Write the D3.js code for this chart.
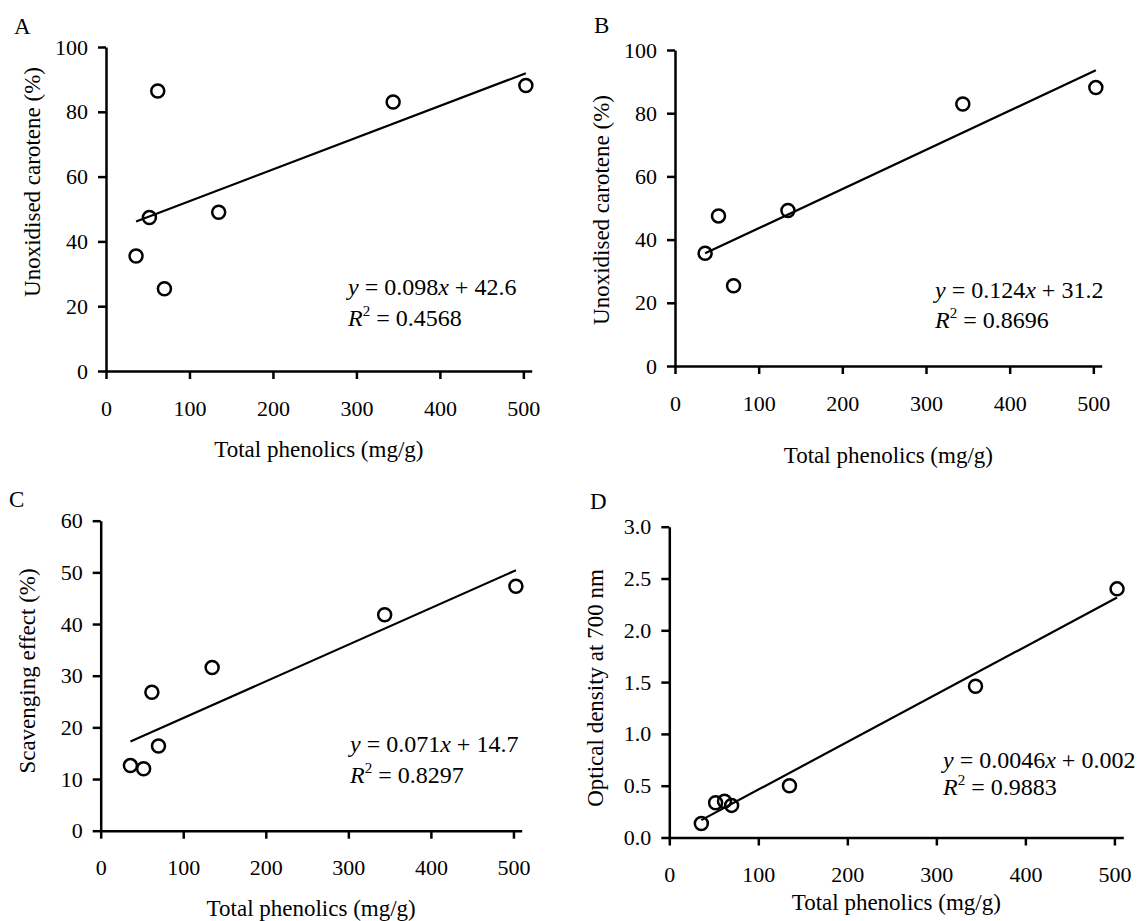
<!DOCTYPE html>
<html>
<head>
<meta charset="utf-8">
<script src="https://cdn.jsdelivr.net/npm/d3@7"></script>
<style>
  body { margin: 0; background: #fff; }
  svg text { font-family: "Liberation Serif", "Times New Roman", serif; fill: #000; }
  .axis path, .axis line { stroke: #000; stroke-width: 2.5; }
</style>
</head>
<body>
<svg id="chart" width="1141" height="921"></svg>
<script>
// x values (total phenolics, mg/g) shared by the panels
const phenolics = [36, 52, 62, 70, 135, 344, 503];
// panel B leaves out the sample at 62 mg/g
const phenolicsB = [36, 52, 70, 135, 344, 503];

const caroteneA = [35.5, 47.4, 86.4, 25.4, 49.0, 83.0, 88.1];
const caroteneB = [35.7, 47.5, 25.4, 49.2, 82.9, 88.1];
const scavenging = [12.6, 12.0, 26.8, 16.4, 31.6, 41.8, 47.3];
const opticalDensity = [0.135, 0.335, 0.35, 0.31, 0.50, 1.46, 2.40];

// regression lines printed on the figure
const fitA = {slope: 0.098, intercept: 42.6, slopeText: '0.098', interceptText: '42.6', r2: '0.4568'};
const fitB = {slope: 0.124, intercept: 31.2, slopeText: '0.124', interceptText: '31.2', r2: '0.8696'};
const fitC = {slope: 0.071, intercept: 14.7, slopeText: '0.071', interceptText: '14.7', r2: '0.8297'};
const fitD = {slope: 0.0046, intercept: 0.002, slopeText: '0.0046', interceptText: '0.002', r2: '0.9883'};

const xTicks = [0, 100, 200, 300, 400, 500];
const yTicksCarotene = [0, 20, 40, 60, 80, 100];
const yTicksScavenging = [0, 10, 20, 30, 40, 50, 60];
const yTicksDensity = [0, 0.5, 1.0, 1.5, 2.0, 2.5, 3.0];

const xTitle = 'Total phenolics (mg/g)';
const FONT = '"Liberation Serif", "Times New Roman", serif';

const svg = d3.select('#chart');

const panels = [
  {letter: 'A', letterPos: [14, 34], xs: phenolics, ys: caroteneA, fit: fitA,
   xRange: [106, 531.7], yRange: [371, 47], yDomain: [0, 100], yTicks: yTicksCarotene, fmt: d3.format('d'),
   yTitle: 'Unoxidised carotene (%)', yTitleY: 182, xTitleDy: 78,
   eqPos: [348, 295], eqGap: 31},
  {letter: 'B', letterPos: [594, 33], xs: phenolicsB, ys: caroteneB, fit: fitB,
   xRange: [675, 1101.7], yRange: [366, 50], yDomain: [0, 100], yTicks: yTicksCarotene, fmt: d3.format('d'),
   yTitle: 'Unoxidised carotene (%)', yTitleY: 210, xTitleDy: 89,
   eqPos: [935, 298], eqGap: 30},
  {letter: 'C', letterPos: [9, 507], xs: phenolics, ys: scavenging, fit: fitC,
   xRange: [100.7, 521.7], yRange: [830.7, 520.7], yDomain: [0, 60], yTicks: yTicksScavenging, fmt: d3.format('d'),
   yTitle: 'Scavenging effect (%)', yTitleY: 671, xTitleDy: 77,
   eqPos: [350, 752], eqGap: 31},
  {letter: 'D', letterPos: [590, 509], xs: phenolics, ys: opticalDensity, fit: fitD,
   xRange: [669.3, 1123.3], yRange: [837.5, 526.7], yDomain: [0, 3], yTicks: yTicksDensity, fmt: d3.format('.1f'),
   yTitle: 'Optical density at 700 nm', yTitleY: 688, xTitleDy: 64,
   eqPos: [943, 768], eqGap: 27}
];

panels.forEach(drawPanel);

function drawPanel(p) {
  const x = d3.scaleLinear().domain([0, 510]).range(p.xRange);
  const y = d3.scaleLinear().domain(p.yDomain).range(p.yRange);
  const g = svg.append('g');

  // axes (d3 puts sans-serif on the axis group, so reset it)
  g.append('g')
    .attr('class', 'axis')
    .attr('transform', `translate(0,${p.yRange[0]})`)
    .call(d3.axisBottom(x).tickValues(xTicks).tickSize(8).tickSizeOuter(0).tickPadding(21))
    .attr('font-family', FONT).attr('font-size', 22)
    .call(a => a.selectAll('text').attr('fill', '#000'));

  g.append('g')
    .attr('class', 'axis')
    .attr('transform', `translate(${p.xRange[0]},0)`)
    .call(d3.axisLeft(y).tickValues(p.yTicks).tickFormat(p.fmt).tickSize(8).tickSizeOuter(0).tickPadding(10))
    .attr('font-family', FONT).attr('font-size', 22)
    .call(a => a.selectAll('text').attr('fill', '#000'));

  // trend line over the range of the data
  const xMin = d3.min(p.xs), xMax = d3.max(p.xs);
  g.append('line')
    .attr('x1', x(xMin)).attr('y1', y(p.fit.slope * xMin + p.fit.intercept))
    .attr('x2', x(xMax)).attr('y2', y(p.fit.slope * xMax + p.fit.intercept))
    .attr('stroke', '#000').attr('stroke-width', 2.2);

  // points
  g.selectAll('circle')
    .data(p.xs.map((v, i) => [v, p.ys[i]]))
    .join('circle')
    .attr('cx', d => x(d[0]))
    .attr('cy', d => y(d[1]))
    .attr('r', 6.5)
    .attr('fill', 'none')
    .attr('stroke', '#000')
    .attr('stroke-width', 2.5);

  // titles
  g.append('text')
    .attr('x', (p.xRange[0] + p.xRange[1]) / 2)
    .attr('y', p.yRange[0] + p.xTitleDy)
    .attr('dy', '0.35em')
    .attr('text-anchor', 'middle')
    .attr('font-size', 23)
    .text(xTitle);

  g.append('text')
    .attr('transform', `translate(${p.xRange[0] - 74},${p.yTitleY}) rotate(-90)`)
    .attr('dy', '0.35em')
    .attr('text-anchor', 'middle')
    .attr('font-size', 23)
    .text(p.yTitle);

  g.append('text')
    .attr('x', p.letterPos[0])
    .attr('y', p.letterPos[1])
    .attr('font-size', 23)
    .text(p.letter);

  // equation and R squared
  const eq = g.append('text')
    .attr('x', p.eqPos[0]).attr('y', p.eqPos[1])
    .attr('font-size', 24);
  eq.append('tspan').attr('font-style', 'italic').text('y');
  eq.append('tspan').text(` = ${p.fit.slopeText}`);
  eq.append('tspan').attr('font-style', 'italic').text('x');
  eq.append('tspan').text(` + ${p.fit.interceptText}`);

  const r2 = g.append('text')
    .attr('x', p.eqPos[0]).attr('y', p.eqPos[1] + p.eqGap)
    .attr('font-size', 24);
  r2.append('tspan').attr('font-style', 'italic').text('R');
  r2.append('tspan').attr('font-size', 15).attr('dy', -10).text('2');
  r2.append('tspan').attr('dy', 10).text(` = ${p.fit.r2}`);
}
</script>
</body>
</html>
